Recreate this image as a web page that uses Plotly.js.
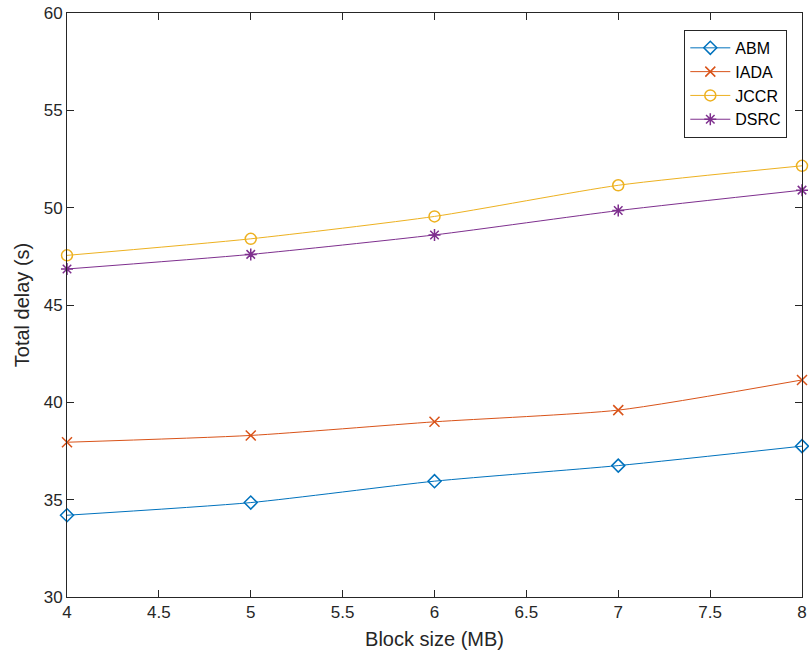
<!DOCTYPE html>
<html>
<head>
<meta charset="utf-8">
<script src="https://cdn.plot.ly/plotly-3.0.1.min.js"></script>
<style>html,body{margin:0;padding:0;background:#fff;}#chart{width:809px;height:656px;}</style>
</head>
<body>
<div id="chart"></div>
<script>
const blockSize = [4, 5, 6, 7, 8];
const abm  = [34.2, 34.85, 35.95, 36.75, 37.75];
const iada = [37.95, 38.3, 39.0, 39.6, 41.15];
const jccr = [47.55, 48.4, 49.55, 51.15, 52.15];
const dsrc = [46.85, 47.6, 48.6, 49.85, 50.9];
const names = ['ABM', 'IADA', 'JCCR', 'DSRC'];
const colors = ['#0072BD', '#D95319', '#EDB120', '#7E2F8E'];
const symbols = ['diamond-open', 'x-thin-open', 'circle-open', 'asterisk-open'];
const series = [abm, iada, jccr, dsrc];
const xTicks = [4, 4.5, 5, 5.5, 6, 6.5, 7, 7.5, 8];
const xTickText = ['4', '4.5', '5', '5.5', '6', '6.5', '7', '7.5', '8'];
const yTicks = [30, 35, 40, 45, 50, 55, 60];

const FONT = 'Liberation Sans, Arial, sans-serif';

const traces = series.map((ys, i) => ({
  x: blockSize, y: ys, name: names[i], type: 'scatter', mode: 'lines+markers',
  line: {color: colors[i], width: 1, shape: 'spline', smoothing: 0.6},
  marker: {symbol: symbols[i], size: i === 2 ? 11 : 10, color: colors[i], line: {color: colors[i], width: 1.5}},
  cliponaxis: false
}));

const axisCommon = {
  showline: true, linecolor: '#262626', linewidth: 1, mirror: 'ticks',
  ticks: 'inside', ticklen: 7, tickcolor: '#262626', tickwidth: 1,
  showgrid: false, zeroline: false, automargin: false,
  tickfont: {family: FONT, size: 17, color: '#262626'}
};

const layout = {
  width: 809, height: 656,
  margin: {l: 67, r: 7, t: 13, b: 59},
  paper_bgcolor: '#fff', plot_bgcolor: '#fff',
  showlegend: true,
  xaxis: Object.assign({}, axisCommon, {
    range: [4, 8], tickvals: xTicks, ticktext: xTickText,
    title: {text: 'Block size (MB)', font: {family: FONT, size: 20, color: '#262626'}, standoff: 10}
  }),
  yaxis: Object.assign({}, axisCommon, {
    range: [30, 60], tickvals: yTicks,
    title: {text: 'Total delay (s)', font: {family: FONT, size: 20, color: '#262626'}, standoff: 8}
  }),
  legend: {
    x: 0.98, xanchor: 'right', y: 0.971, yanchor: 'top',
    bgcolor: '#fff', bordercolor: '#262626', borderwidth: 1,
    font: {family: FONT, size: 16, color: '#000'},
    itemwidth: 40, tracegroupgap: 0
  }
};

Plotly.newPlot('chart', traces, layout, {displayModeBar: false, staticPlot: true});
</script>
</body>
</html>
